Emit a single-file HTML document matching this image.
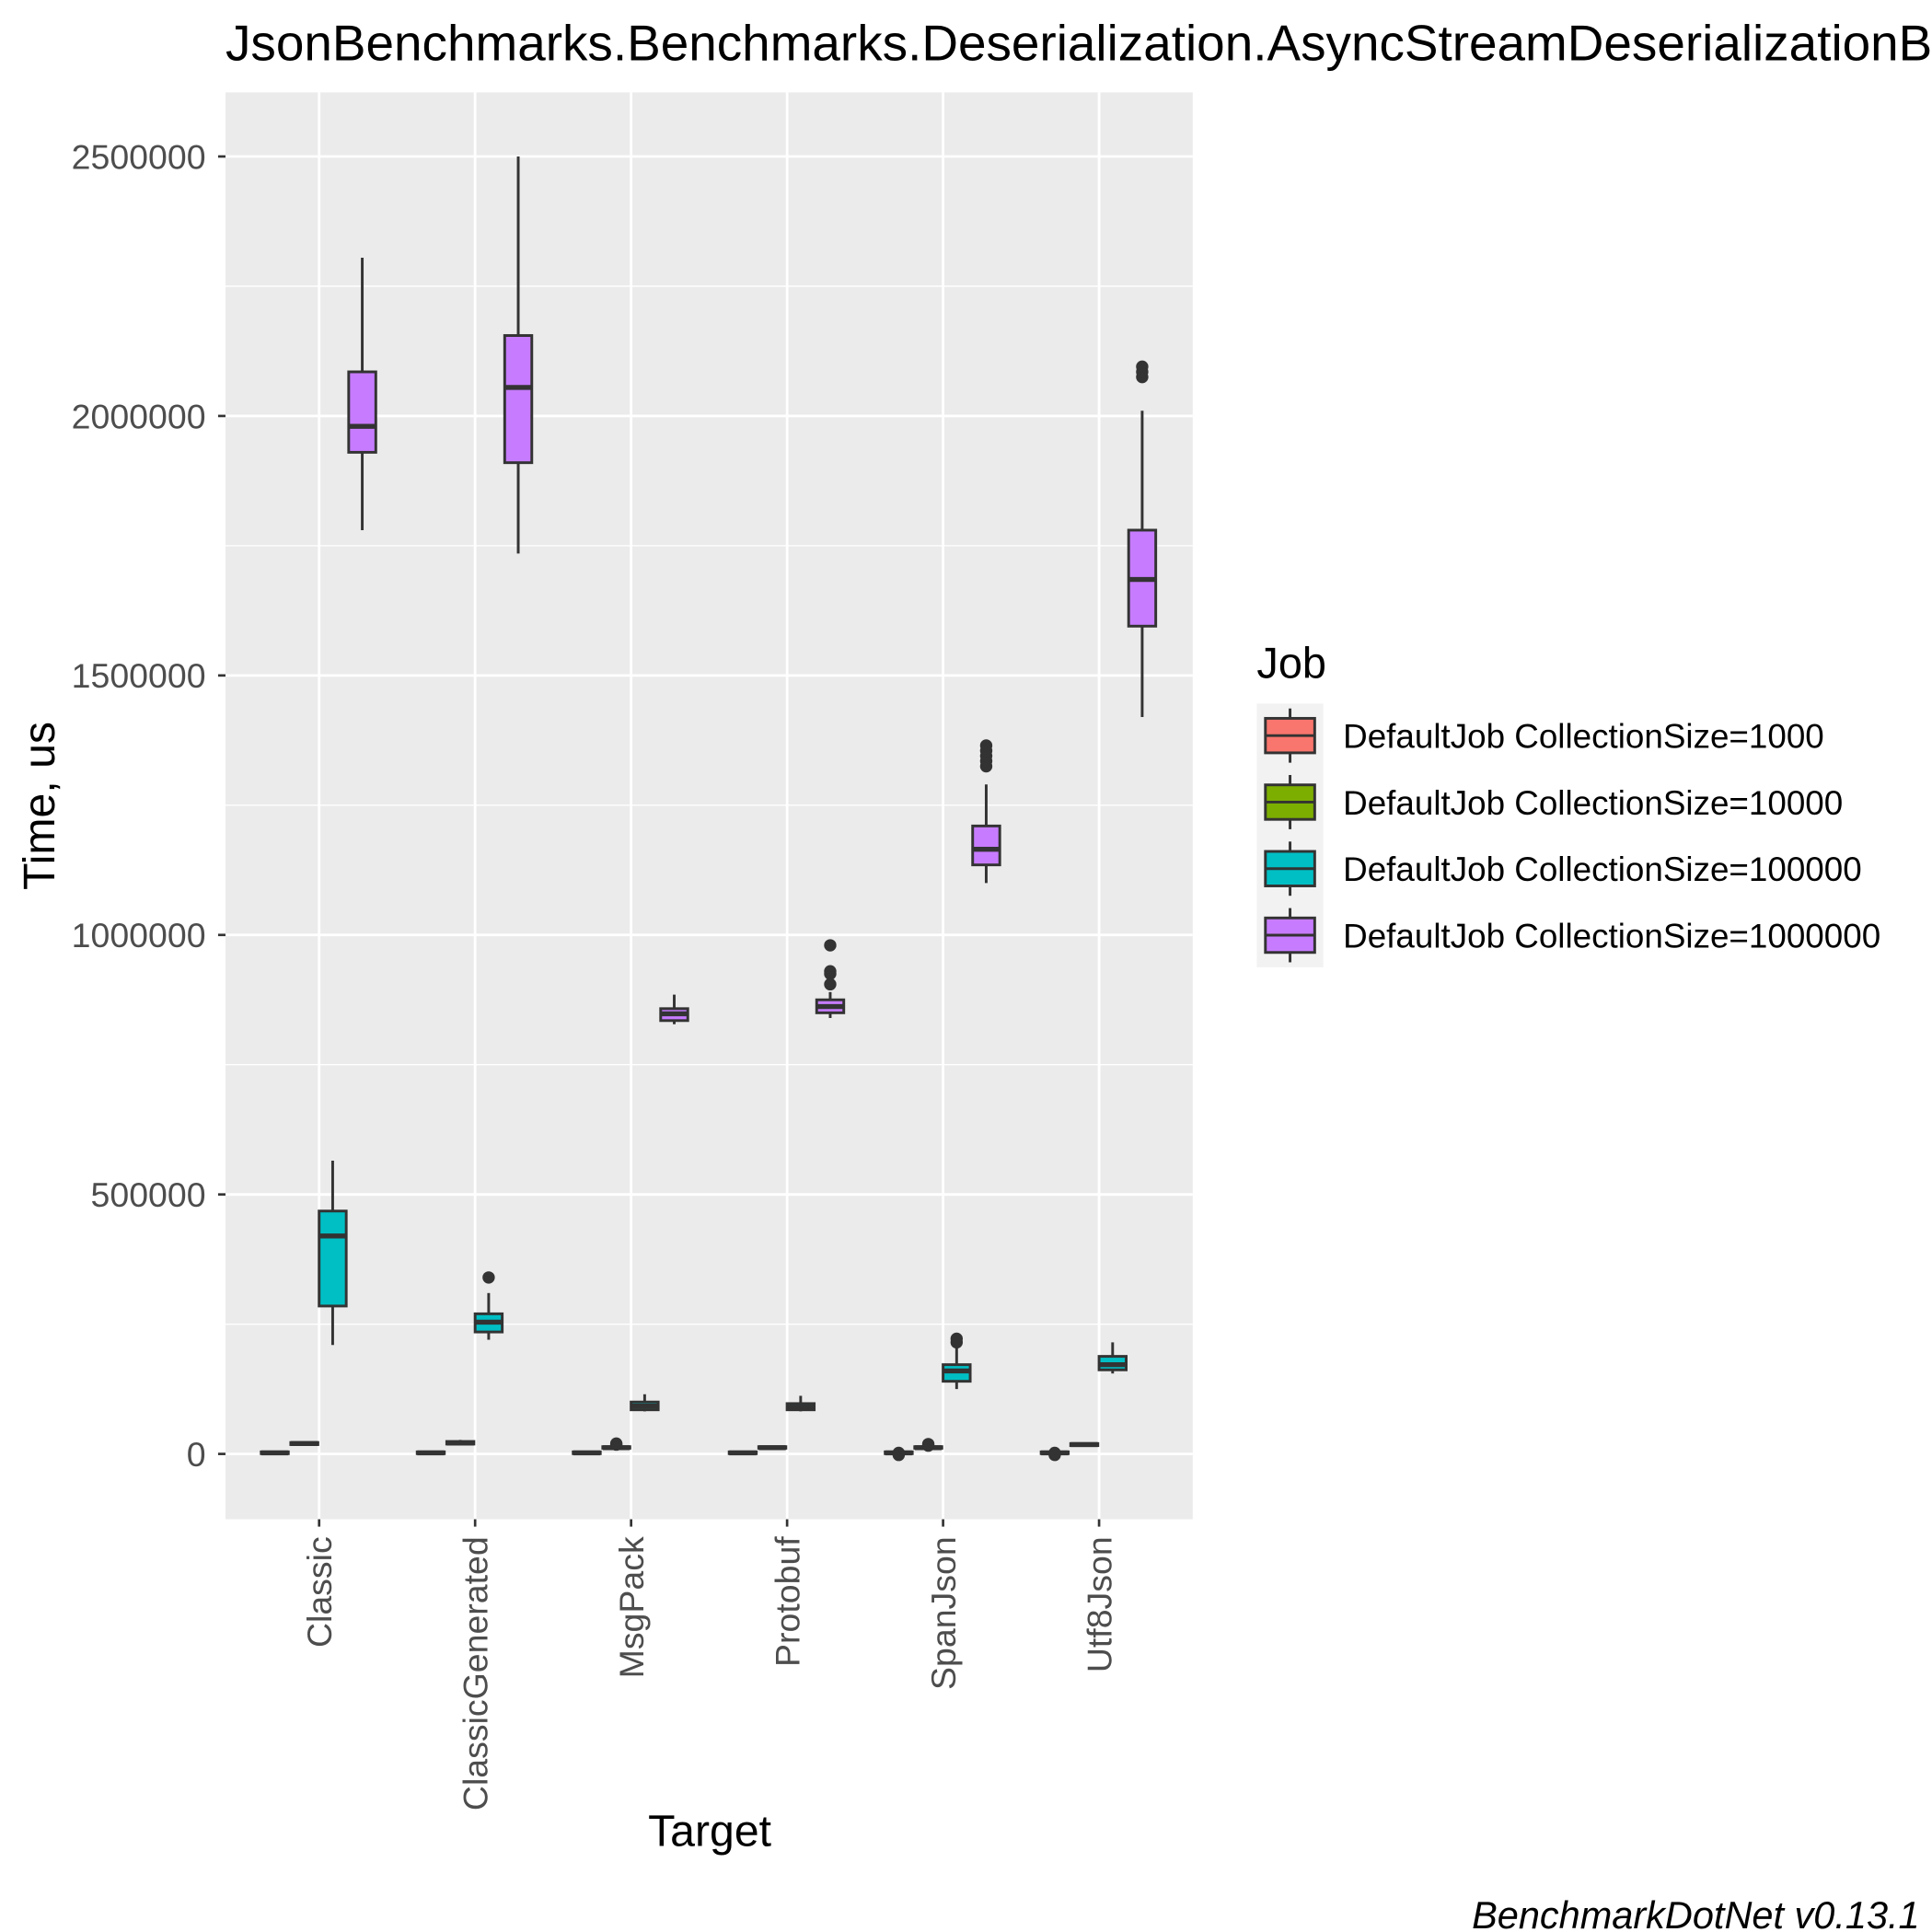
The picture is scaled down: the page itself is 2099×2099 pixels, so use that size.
<!DOCTYPE html>
<html><head><meta charset="utf-8"><style>html,body{margin:0;padding:0;background:#fff}svg{display:block}text{font-family:"Liberation Sans",Arial,sans-serif}</style></head>
<body>
<svg id="chart" width="2099" height="2099" viewBox="0 0 1568 1568" xmlns="http://www.w3.org/2000/svg">
<rect x="0" y="0" width="1568" height="1568" fill="#fff"/>
<text x="183" y="49" font-size="41" fill="#000">JsonBenchmarks.Benchmarks.Deserialization.AsyncStreamDeserializationBenchmark</text>
<rect x="183" y="75" width="785" height="1158" fill="#EBEBEB"/>
<g id="grid"></g>
<g id="boxes"></g>
<g id="axes"></g>
<text x="576" y="1498" font-size="36" text-anchor="middle">Target</text>
<text transform="translate(44,654) rotate(-90)" font-size="36" text-anchor="middle">Time, us</text>
<g>
<text x="1020" y="550" font-size="35">Job</text>
<rect x="1020" y="571" width="54" height="214" fill="#F2F2F2"/>
<g id="legend"></g>
</g>
<text x="1558" y="1565" font-size="31" font-style="italic" text-anchor="end">BenchmarkDotNet v0.13.1</text>
</svg>
<script>
const categories=["Classic","ClassicGenerated","MsgPack","Protobuf","SpanJson","Utf8Json"];
const jobs=["DefaultJob CollectionSize=1000","DefaultJob CollectionSize=10000","DefaultJob CollectionSize=100000","DefaultJob CollectionSize=1000000"];
const colors=["#F8766D","#7CAE00","#00BFC4","#C77CFF"];
const yTicks=[0,500000,1000000,1500000,2000000,2500000];
// [lo,q1,med,q3,hi] per category per job
const stats1000=[[0,500,2000,4000,5000],[0,500,2000,4000,5000],[0,500,2000,4000,5000],[0,500,2000,4000,5000],[0,500,2000,4000,5000],[0,500,2000,4000,5000]];
const stats10000=[[17000,18000,20000,22000,23000],[18000,19000,21000,24000,27000],[10000,11000,12000,14000,15000],[10000,11000,12000,14000,15000],[10000,11000,12000,14000,15000],[15000,16000,18000,20000,21000]];
const stats100000=[[210000,285000,420000,468000,565000],[220000,235000,254000,270000,310000],[82000,85000,92000,100000,115000],[82000,85000,90000,97000,112000],[125000,140000,160000,172000,205000],[155000,162000,172000,188000,215000]];
const stats1000000=[[1780000,1930000,1980000,2085000,2305000],[1735000,1910000,2055000,2155000,2500000],[828000,835000,848000,858000,885000],[840000,850000,862000,875000,890000],[1100000,1135000,1165000,1210000,1290000],[1420000,1595000,1685000,1780000,2010000]];
const out1000=[[],[],[],[],[0,-2000,2000],[0,-2000,2000]];
const out10000=[[],[],[18000,20000],[],[16000,19000],[]];
const out100000=[[],[340000],[],[],[215000,222000],[]];
const out1000000=[[],[],[],[905000,925000,930000,980000],[1325000,1335000,1345000,1355000,1365000],[2075000,2085000,2095000]];
const allStats=[stats1000,stats10000,stats100000,stats1000000];
const allOut=[out1000,out10000,out100000,out1000000];
const NS="http://www.w3.org/2000/svg";
const y=v=>1180-(v/500000)*210.6;
const xc=i=>259+i*126.6;
const offs=[-36,-12,11,35];
const bw=22;
function mk(tag,attrs,parent){const e=document.createElementNS(NS,tag);for(const k in attrs)e.setAttribute(k,attrs[k]);parent.appendChild(e);return e;}
const grid=document.getElementById('grid'),boxes=document.getElementById('boxes'),axes=document.getElementById('axes');
for(let i=0;i<yTicks.length-1;i++){const v=(yTicks[i]+yTicks[i+1])/2;const l=mk('line',{x1:183,x2:968,y1:y(v),y2:y(v),stroke:'#fff','stroke-width':1},grid);}
yTicks.forEach(v=>{const l=mk('line',{x1:183,x2:968,y1:y(v),y2:y(v),stroke:'#fff','stroke-width':2.1},grid);
const t=mk('line',{x1:177,x2:183,y1:y(v),y2:y(v),stroke:'#333','stroke-width':2},axes);
const tx=mk('text',{x:167,y:y(v)+10,'font-size':28,fill:'#4D4D4D','text-anchor':'end'},axes);tx.textContent=v;});
categories.forEach((c,i)=>{const l=mk('line',{x1:xc(i),x2:xc(i),y1:75,y2:1233,stroke:'#fff','stroke-width':2.1},grid);
const t=mk('line',{x1:xc(i),x2:xc(i),y1:1233,y2:1239,stroke:'#333','stroke-width':2},axes);
const tx=mk('text',{transform:`translate(${xc(i)+10},1247) rotate(-90)`,'font-size':28,fill:'#4D4D4D','text-anchor':'end'},axes);tx.textContent=c;});
allStats.forEach((st,j)=>{st.forEach((s,i)=>{const cx=xc(i)+offs[j];const g=mk('g',{},boxes);
mk('line',{x1:cx,x2:cx,y1:y(s[0]),y2:y(s[4]),stroke:'#333','stroke-width':2.2},g);
const top=y(s[3]),bot=y(s[1]);mk('rect',{x:cx-bw/2,y:top,width:bw,height:Math.max(bot-top,1),fill:colors[j],stroke:'#333','stroke-width':2.2},g);
mk('line',{x1:cx-bw/2,x2:cx+bw/2,y1:y(s[2]),y2:y(s[2]),stroke:'#333','stroke-width':4},g);
allOut[j][i].forEach(o=>{const c=mk('circle',{cx:cx,cy:y(o),r:5,fill:'#333'},g);});});});
const lg=document.getElementById('legend');
jobs.forEach((jb,k)=>{const cy=597+k*54;const g=mk('g',{},lg);
mk('line',{x1:1047,x2:1047,y1:cy-22,y2:cy+22,stroke:'#333','stroke-width':2.2},g);
mk('rect',{x:1027,y:cy-14,width:40,height:28,fill:colors[k],stroke:'#333','stroke-width':2.2},g);
mk('line',{x1:1027,x2:1067,y1:cy,y2:cy,stroke:'#333','stroke-width':2.2},g);
const t=mk('text',{x:1090,y:cy+10,'font-size':27.5},g);t.textContent=jb;});
</script>
</body></html>
